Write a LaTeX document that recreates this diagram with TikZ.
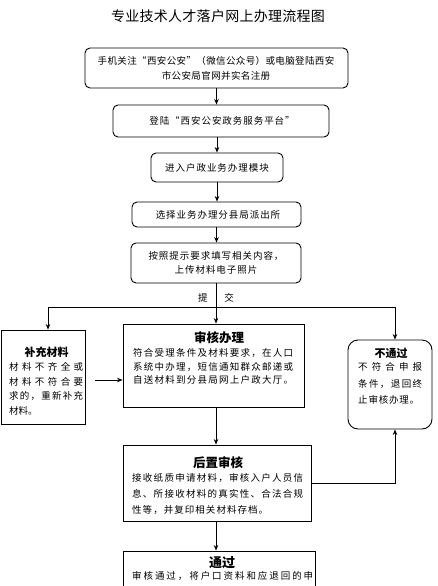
\documentclass[tikz,border=0pt]{standalone}
\usepackage{fontspec}
\setmainfont{Noto Sans CJK SC}
\usetikzlibrary{arrows.meta}
\def\spreadA#1{\ifx\relax#1\else#1\expandafter\spreadB\fi}
\def\spreadB#1{\ifx\relax#1\else\hfill#1\expandafter\spreadB\fi}
\newcommand{\jline}[2]{\hbox to #1{\spreadA#2\relax}}
\tikzset{
  box/.style={draw, line width=0.9pt, inner sep=0pt},
  rbox/.style={box, rounded corners=5pt},
  txt/.style={inner sep=0pt, align=center, font=\fontsize{9.5}{15}\selectfont\addfontfeatures{LetterSpace=10}},
  jtxt/.style={inner sep=0pt, align=left, anchor=north west},
  ttl/.style={inner sep=0pt, font=\fontsize{12.5}{14}\selectfont\bfseries},
  arr/.style={-{Stealth[length=5.5pt,width=4.5pt]}, line width=0.9pt},
  ln/.style={line width=0.9pt}
}
\begin{document}
\begin{tikzpicture}[x=1pt,y=-1pt]
\useasboundingbox (0,0) rectangle (437,586);
\begin{scope}
\clip (0,0) rectangle (437,586);
% title
\node[inner sep=0pt, font=\fontsize{14}{16}\selectfont\addfontfeatures{LetterSpace=2}] (title) at (218,16) {专业技术人才落户网上办理流程图};
% boxes
\node[rbox, minimum width=263pt, minimum height=40pt] (b1) at (216.5,68) {};
\node[rbox, minimum width=216pt, minimum height=32pt] (b2) at (221,121) {};
\node[rbox, minimum width=132pt, minimum height=29pt] (b3) at (217,167.5) {};
\node[rbox, minimum width=169pt, minimum height=25pt] (b4) at (216.5,214.5) {};
\node[rbox, minimum width=170pt, minimum height=40pt] (b5) at (216,263) {};
\node[box, minimum width=84pt, minimum height=94pt] (left) at (43,377) {};
\node[box, minimum width=181pt, minimum height=83pt] (mid) at (213.5,365.5) {};
\node[rbox, rounded corners=10pt, minimum width=84pt, minimum height=89pt] (right) at (390,384.5) {};
\node[box, minimum width=188pt, minimum height=76pt] (hou) at (217,483) {};
\node[box, minimum width=192pt, minimum height=69pt] (tong) at (219,585.5) {};
% texts
\node[txt, font=\fontsize{9.5}{15}\selectfont\addfontfeatures{LetterSpace=4}] (t1) at (216,68.5) {手机关注“西安公安”（微信公众号）或电脑登陆西安\\市公安局官网并实名注册};
\node[txt] (t2) at (222,121) {登陆“西安公安政务服务平台”};
\node[txt] (t3) at (217,167.5) {进入户政业务办理模块};
\node[txt] (t4) at (218,214.5) {选择业务办理分县局派出所};
\node[txt, font=\fontsize{9.5}{14}\selectfont\addfontfeatures{LetterSpace=10}] (t5) at (216,263) {按照提示要求填写相关内容，\\上传材料电子照片};
\node[txt] (tj) at (216,298) {提\hspace{17pt}交};
% left box text
\node[ttl, font=\fontsize{11}{13}\selectfont\bfseries] (lt) at (46.5,352) {补充材料};
\node[jtxt, font=\fontsize{9.5}{14.5}\selectfont] (lb) at (9,362.4) {\jline{74pt}{材料不齐全或}\\\jline{74pt}{材料不符合要}\\\jline{74pt}{求的，重新补充}\\材料。};
% mid box text
\node[ttl] (mt) at (219,338) {审核办理};
\node[jtxt, font=\fontsize{9.5}{13.5}\selectfont] (mb) at (133,348.4) {\jline{160pt}{符合受理条件及材料要求，在人口}\\\jline{160pt}{系统中办理，短信通知群众邮递或}\\\jline{160pt}{自送材料到分县局网上户政大厅。}};
% right box text
\node[ttl, font=\fontsize{11}{13}\selectfont\bfseries] (rt) at (391,353) {不通过};
\node[jtxt, font=\fontsize{9.5}{16.5}\selectfont] (rb) at (358,362.4) {\jline{64pt}{不符合申报}\\\jline{64pt}{条件，退回终}\\\jline{61pt}{止审核办理。}};
% hou box text
\node[ttl] (ht) at (218,463) {后置审核};
\node[jtxt, font=\fontsize{9.5}{16}\selectfont] (hb) at (132,473.4) {\jline{171pt}{接收纸质申请材料，审核入户人员信}\\\jline{171pt}{息、所接收材料的真实性、合法合规}\\\jline{136pt}{性等，并复印相关材料存档。}};
% tong box text
\node[ttl, font=\fontsize{13}{15}\selectfont\bfseries] (tt) at (222,563) {通过};
\node[jtxt, font=\fontsize{9.5}{16}\selectfont] (tb) at (132,571.4) {\jline{181pt}{审核通过，将户口资料和应退回的申}};
% connectors
\coordinate (j) at (216,307);
\coordinate (jl) at (48,307);
\coordinate (jr) at (395,307);
\coordinate (la) at (95,380);
\draw[arr] (b1.south) -- (b1.south |- b2.north);
\draw[arr] (b2.south -| b3.north) -- (b3.north);
\draw[arr] (b3.south) -- (b3.south |- b4.north);
\draw[arr] (b4.south) -- (b4.south |- b5.north);
\draw[ln] (b5.south) -- (b5.south |- j);
\draw[ln] (jl) -- (jr);
\draw[arr] (j) -- (j |- mid.north);
\draw[arr] (jl) -- (jl |- left.north);
\draw[arr] (jr) -- (jr |- right.north);
\draw[arr] (la) -- (la -| mid.west);
\draw[arr] (mid.south -| j) -- (j |- hou.north);
\draw[arr] (hou.south -| j) -- (j |- tong.north);
\draw[arr] (hou.east) -- (hou.east -| jr) -- (jr |- right.south);
\end{scope}
\end{tikzpicture}
\end{document}
